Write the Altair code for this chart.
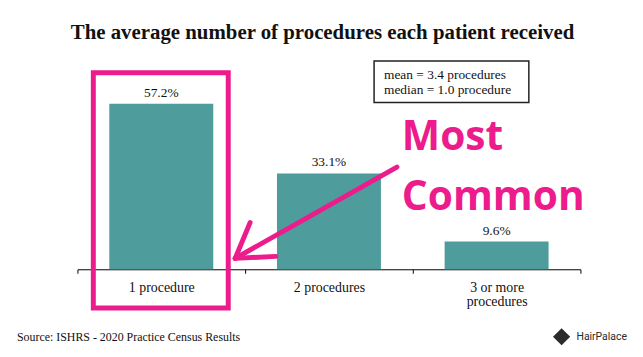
import altair as alt
import pandas as pd

categories = ["1 procedure", "2 procedures", "3 or more procedures"]
percent = [57.2, 33.1, 9.6]
percent_labels = ["57.2%", "33.1%", "9.6%"]
stats_lines = ["mean = 3.4 procedures", "median = 1.0 procedure"]
callout_lines = ["Most", "Common"]
source_text = "Source: ISHRS - 2020 Practice Census Results"
brand_text = "HairPalace"
title_text = "The average number of procedures each patient received"

df = pd.DataFrame({"category": categories, "percent": percent, "label": percent_labels})
one = pd.DataFrame({"k": [0]})

PINK = "#ec1c8c"
TEAL = "#4e9c9b"
SERIF = "Liberation Serif"

x = alt.X(
    "category:N",
    sort=categories,
    scale=alt.Scale(paddingInner=0, paddingOuter=0),
    axis=alt.Axis(
        title=None, labelAngle=0, tickBand="extent", ticks=True, tickSize=4,
        tickColor="black", domainColor="black", domainWidth=1, labelFont=SERIF,
        labelFontSize=14, labelColor="#111", labelPadding=7, labelLineHeight=15,
        labelExpr="datum.label == '3 or more procedures' ? ['3 or more', 'procedures'] : datum.label",
        grid=False,
    ),
)
y = alt.Y("percent:Q", scale=alt.Scale(domain=[0, 78.8]), axis=None)

bars = alt.Chart(df).mark_bar(width=alt.RelativeBandSize(0.62), color=TEAL).encode(x=x, y=y)
vals = alt.Chart(df).mark_text(
    font=SERIF, fontSize=13.5, dy=-7, baseline="alphabetic", color="#111"
).encode(x=x, y=y, text="label:N")

title = alt.Chart(one).mark_text(
    font=SERIF, fontSize=21, fontWeight="bold", align="center", baseline="alphabetic", color="#111"
).encode(x=alt.value(247), y=alt.value(-2), text=alt.value(title_text))

box = alt.Chart(one).mark_rect(fill="white", stroke="#222", strokeWidth=1.5).encode(
    x=alt.value(299), x2=alt.value(455), y=alt.value(20), y2=alt.value(62)
)
stats = alt.Chart(one).mark_text(
    font=SERIF, fontSize=13.5, align="left", baseline="alphabetic", lineHeight=15, color="#111"
).encode(x=alt.value(309), y=alt.value(38), text=alt.value(stats_lines))

highlight = alt.Chart(one).mark_rect(filled=False, stroke=PINK, strokeWidth=5).encode(
    x=alt.value(16), x2=alt.value(152), y=alt.value(32), y2=alt.value(269)
)

def seg(x1, y1, x2, y2):
    return alt.Chart(one).mark_rule(color=PINK, strokeWidth=5, strokeCap="round").encode(
        x=alt.value(x1), y=alt.value(y1), x2=alt.value(x2), y2=alt.value(y2)
    )

arrow = seg(322, 127, 159, 219) + seg(159, 219, 174, 183) + seg(159, 219, 200, 217)

callout = alt.Chart(one).mark_text(
    font="Open Sans", fontWeight="bold", fontSize=41, align="left", baseline="alphabetic",
    lineHeight=60, color=PINK
).encode(x=alt.value(327), y=alt.value(110), text=alt.value(callout_lines))

source = alt.Chart(one).mark_text(
    font=SERIF, fontSize=12, align="left", baseline="middle", color="#111"
).encode(x=alt.value(-61), y=alt.value(298), text=alt.value(source_text))

logo = alt.Chart(one).mark_point(shape="diamond", filled=True, color="#2b2b2b", size=300, opacity=1).encode(
    x=alt.value(488), y=alt.value(298)
)
brand = alt.Chart(one).mark_text(
    font="Roboto", fontSize=10.5, align="left", baseline="middle", color="#2b2b2b"
).encode(x=alt.value(503), y=alt.value(298), text=alt.value(brand_text))

chart = alt.layer(title, bars, vals, box, stats, highlight, arrow, callout, source, logo, brand).properties(
    width=507,
    height=230,
    autosize=alt.AutoSizeParams(type="none"),
    padding={"left": 70, "top": 32, "right": 55, "bottom": 79},
).configure_view(stroke=None)

chart.save("out.html", embed_options={"renderer": "svg", "actions": False})
